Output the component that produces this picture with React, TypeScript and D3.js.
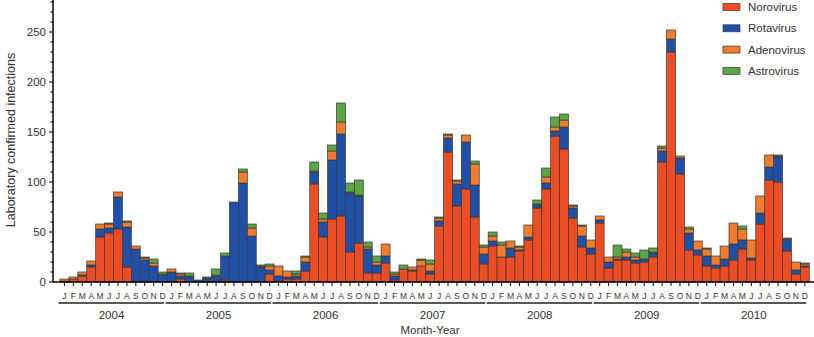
import React from "react";
import * as d3 from "d3";

const years = ["2004", "2005", "2006", "2007", "2008", "2009", "2010"];
const monthLetters = ["J", "F", "M", "A", "M", "J", "J", "A", "S", "O", "N", "D"];
const seriesNames = ["Norovirus", "Rotavirus", "Adenovirus", "Astrovirus"];
const seriesColors = ["#ee4d23", "#1f4fa6", "#f37b2c", "#5aa544"];

// monthly values, Jan 2004 .. Dec 2010
const norovirus = [
  1, 3, 6, 15, 45, 49, 53, 15, 0, 1, 0, 0,
  0, 3, 0, 0, 0, 0, 2, 0, 0, 0, 0, 8,
  1, 3, 3, 11, 98, 45, 63, 66, 30, 39, 9, 9,
  19, 2, 13, 11, 16, 8, 56, 130, 76, 93, 65, 18,
  36, 25, 25, 31, 42, 74, 93, 146, 133, 64, 35, 28,
  59, 14, 22, 22, 19, 20, 25, 120, 230, 108, 32, 27,
  16, 14, 16, 22, 33, 22, 58, 102, 100, 31, 8, 15,
];
const rotavirus = [
  0, 0, 1, 2, 8, 5, 32, 40, 33, 21, 16, 7,
  10, 3, 5, 2, 3, 6, 24, 80, 99, 46, 15, 4,
  5, 2, 3, 9, 12, 15, 59, 82, 59, 47, 24, 8,
  7, 4, 0, 1, 0, 3, 5, 14, 22, 47, 32, 10,
  5, 0, 9, 1, 3, 3, 6, 5, 22, 10, 11, 6,
  3, 6, 1, 3, 3, 3, 4, 11, 13, 16, 17, 5,
  10, 3, 7, 16, 9, 2, 11, 13, 25, 12, 4, 1,
];
const adenovirus = [
  2, 2, 3, 4, 5, 4, 5, 5, 3, 2, 3, 1,
  3, 2, 1, 0, 1, 1, 0, 0, 11, 8, 1, 4,
  10, 6, 2, 5, 1, 3, 9, 12, 1, 1, 2, 3,
  12, 2, 0, 3, 6, 7, 3, 3, 3, 7, 21, 7,
  5, 12, 7, 3, 12, 1, 6, 4, 7, 2, 10, 8,
  4, 5, 2, 5, 3, 0, 1, 3, 9, 2, 4, 9,
  7, 9, 13, 21, 11, 18, 17, 12, 1, 1, 8, 2,
];
const astrovirus = [
  0, 0, 0, 0, 0, 1, 0, 1, 0, 1, 4, 2,
  0, 1, 3, 0, 1, 6, 3, 0, 3, 4, 1, 2,
  0, 0, 3, 1, 9, 6, 6, 19, 9, 15, 5, 6,
  0, 2, 4, 0, 1, 4, 1, 1, 1, 0, 3, 2,
  4, 3, 0, 1, 0, 4, 9, 10, 6, 1, 1, 0,
  0, 0, 12, 3, 4, 9, 4, 2, 0, 0, 2, 0,
  1, 0, 0, 0, 3, 0, 0, 0, 1, 0, 0, 1,
];

const W = 814;
const H = 337;
const FONT = "'Liberation Sans', Arial, sans-serif";

export default function App() {
  const n = norovirus.length;
  const rows = d3.range(n).map((i) => ({
    i,
    Norovirus: norovirus[i],
    Rotavirus: rotavirus[i],
    Adenovirus: adenovirus[i],
    Astrovirus: astrovirus[i],
  }));
  const stacked = d3.stack<any>().keys(seriesNames)(rows);

  const axisX = 53;
  const x0 = 60;
  const x1 = 809.3;
  const x = d3.scaleBand<number>().domain(d3.range(n)).range([x0, x1]).padding(0);
  const y = d3.scaleLinear().domain([0, 282]).range([282, 0]);
  const bw = x.bandwidth();

  const minorTicks = d3.range(0, 281, 10);
  const majorTicks = d3.range(0, 251, 50);

  return (
    <svg
      width={W}
      height={H}
      style={{ position: "absolute", left: 0, top: 0, background: "#fff" }}
      fontFamily={FONT}
    >
      {/* bars */}
      {stacked.map((layer, si) => (
        <g key={seriesNames[si]} fill={seriesColors[si]}>
          {layer.map((d, i) => {
            const h = y(d[0]) - y(d[1]);
            if (h <= 0) return null;
            return (
              <rect
                key={i}
                x={x(i)!}
                y={y(d[1])}
                width={bw}
                height={h}
                stroke="#3a3a3a"
                strokeWidth={0.7}
              />
            );
          })}
        </g>
      ))}

      {/* y axis */}
      <line x1={axisX} x2={axisX} y1={0} y2={y(0)} stroke="#000" strokeWidth={1.5} />
      {minorTicks.map((t) => (
        <line
          key={"m" + t}
          x1={axisX - (t % 50 === 0 ? 4 : 2.5)}
          x2={axisX}
          y1={y(t)}
          y2={y(t)}
          stroke="#000"
          strokeWidth={1}
        />
      ))}
      {majorTicks.map((t) => (
        <text
          key={"l" + t}
          x={axisX - 7}
          y={y(t)}
          dy="0.35em"
          textAnchor="end"
          fontSize={11.5}
          fill="#333"
        >
          {t}
        </text>
      ))}
      <text
        transform={`translate(11,${140}) rotate(-90)`}
        textAnchor="middle"
        dy="0.35em"
        fontSize={12.5}
        fill="#333"
      >
        Laboratory confirmed infections
      </text>

      {/* x axis */}
      <line x1={axisX} x2={W} y1={y(0)} y2={y(0)} stroke="#000" strokeWidth={1.5} />
      {rows.map((r) => (
        <g key={"t" + r.i}>
          <line
            x1={x(r.i)! + bw / 2}
            x2={x(r.i)! + bw / 2}
            y1={y(0)}
            y2={y(0) + 4}
            stroke="#000"
            strokeWidth={1}
          />
          <text
            x={x(r.i)! + bw / 2}
            y={296}
            dy="0.35em"
            textAnchor="middle"
            fontSize={8.5}
            fill="#333"
          >
            {monthLetters[r.i % 12]}
          </text>
        </g>
      ))}
      {years.map((yr, k) => {
        const s = x(k * 12)!;
        const e = x(k * 12 + 11)! + bw;
        return (
          <g key={yr}>
            <line x1={s - 1.5} x2={e - 3} y1={303} y2={303} stroke="#222" strokeWidth={1.3} />
            <text
              x={(s + e) / 2 - 2}
              y={315}
              dy="0.35em"
              textAnchor="middle"
              fontSize={11.5}
              fill="#333"
            >
              {yr}
            </text>
          </g>
        );
      })}
      <text x={430} y={330} dy="0.35em" textAnchor="middle" fontSize={11.5} fill="#333">
        Month-Year
      </text>

      {/* legend */}
      {seriesNames.map((name, i) => (
        <g key={name} transform={`translate(723,${7 + i * 21.3})`}>
          <rect x={0} y={-3.5} width={17} height={7} fill={seriesColors[i]} stroke="#3a3a3a" strokeWidth={0.7} />
          <text x={25} y={0} dy="0.35em" fontSize={11.5} fill="#333">
            {name}
          </text>
        </g>
      ))}
    </svg>
  );
}
